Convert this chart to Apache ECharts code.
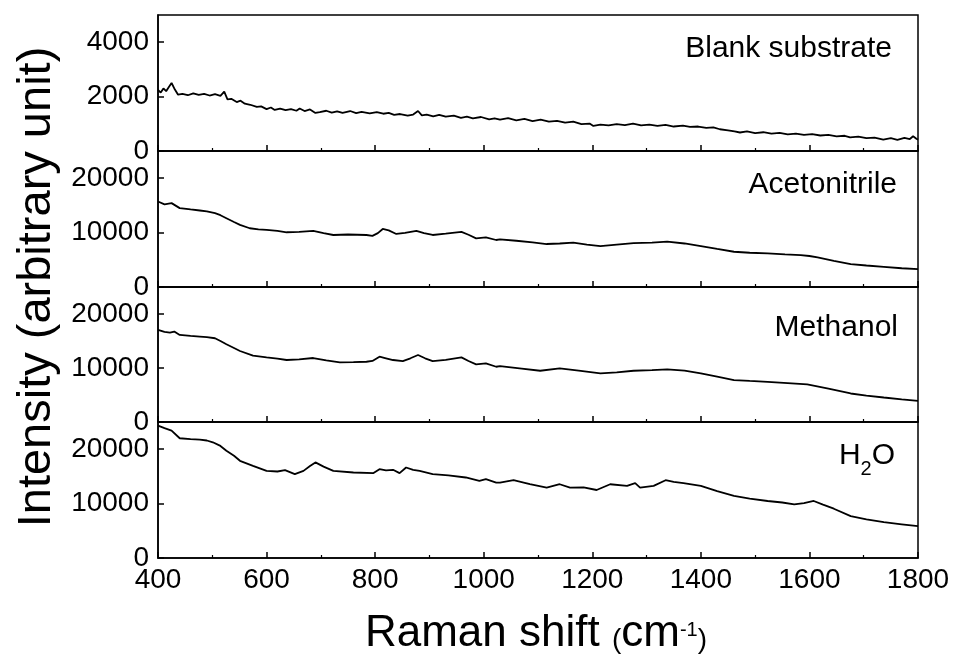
<!DOCTYPE html>
<html>
<head>
<meta charset="utf-8">
<script src="https://cdn.jsdelivr.net/npm/echarts@6/dist/echarts.min.js"></script>
<style>html,body{margin:0;padding:0;background:#fff}#c{width:957px;height:659px}</style>
</head>
<body>
<div id="c"></div>
<script>
// Raman shift (cm-1) values and intensities
const xTicks = [400, 600, 800, 1000, 1200, 1400, 1600, 1800];
const panelNames = ['Blank substrate', 'Acetonitrile', 'Methanol', 'H2O'];

const blankX = [400,405,410,415,420,425,430,437,445,455,465,475,485,495,505,515,522,528,535,545,552,560,570,582,590,600,608,615,625,635,645,655,661,670,680,690,698,710,720,730,740,754,765,775,790,803,815,825,835,846,860,870,879,886,895,907,918,930,945,958,969,980,995,1010,1020,1030,1045,1060,1075,1090,1105,1120,1135,1150,1165,1180,1195,1202,1215,1230,1245,1260,1275,1290,1305,1320,1335,1350,1367,1380,1395,1410,1423,1435,1450,1462,1472,1485,1500,1515,1530,1545,1560,1575,1590,1605,1620,1635,1650,1665,1675,1690,1705,1720,1736,1750,1762,1775,1785,1791,1797,1800];
const blankY = [2250,2150,2300,2200,2350,2500,2300,2070,2100,2050,2120,2060,2100,2040,2090,2030,2180,1900,1920,1800,1850,1740,1700,1620,1640,1540,1600,1510,1560,1500,1540,1480,1560,1470,1530,1400,1430,1480,1410,1460,1400,1470,1390,1440,1380,1430,1370,1400,1330,1360,1300,1340,1470,1310,1340,1270,1330,1260,1300,1220,1260,1200,1250,1160,1200,1150,1210,1130,1180,1100,1150,1080,1110,1040,1080,990,1010,920,970,940,990,950,1010,940,970,920,960,900,930,890,900,850,870,800,760,720,680,720,660,690,640,670,610,640,590,620,570,590,540,560,500,530,470,490,420,470,410,480,440,540,450,420];

const acetoX = [400,412,425,440,460,477,490,505,515,526,540,551,569,585,600,620,637,660,686,705,723,750,784,795,805,814,825,839,855,876,890,906,930,959,972,986,1004,1023,1030,1060,1090,1116,1140,1165,1190,1215,1245,1276,1310,1338,1370,1400,1430,1461,1490,1523,1555,1584,1600,1615,1645,1676,1705,1737,1770,1800];
const acetoY = [15725,15200,15420,14500,14250,14060,13900,13570,13200,12650,11950,11410,10800,10600,10490,10300,10060,10150,10300,9900,9560,9650,9560,9400,9900,10670,10400,9750,9950,10300,9900,9560,9800,10120,9600,8950,9120,8640,8770,8500,8200,7900,8000,8140,7800,7530,7800,8080,8150,8330,8000,7530,7000,6480,6300,6170,6000,5860,5700,5430,4800,4200,3950,3700,3450,3270];

const methX = [400,412,422,430,440,460,477,490,505,515,526,540,551,575,600,620,637,660,686,710,735,760,784,795,808,820,833,851,865,879,892,906,930,959,972,986,1004,1023,1030,1070,1104,1140,1175,1215,1245,1276,1310,1338,1370,1400,1430,1461,1490,1523,1560,1596,1635,1676,1705,1737,1770,1800];
const methY = [17060,16700,16560,16750,16130,15950,15810,15700,15510,15000,14400,13700,13150,12280,11970,11750,11480,11600,11850,11400,11050,11100,11160,11300,12090,11800,11480,11290,11800,12400,11800,11290,11500,11970,11300,10680,10860,10230,10360,9900,9490,9920,9500,9000,9200,9490,9600,9740,9500,9000,8400,7760,7600,7440,7200,6960,6200,5280,4900,4540,4200,3910];

const waterX = [400,412,425,440,460,477,490,501,515,526,540,551,575,600,620,634,652,668,680,690,705,723,760,797,808,820,833,845,857,870,882,906,935,967,992,1004,1023,1030,1055,1085,1116,1140,1159,1184,1208,1233,1264,1279,1288,1313,1335,1350,1368,1400,1430,1461,1490,1523,1550,1572,1590,1608,1625,1645,1676,1705,1737,1770,1800];
const waterY = [24350,23890,23420,22010,21850,21760,21600,21270,20600,19720,18800,17870,16950,16020,15900,16140,15410,16020,16900,17570,16800,16020,15720,15610,16330,16100,16210,15600,16640,16200,16020,15410,15200,14800,14170,14480,13870,13870,14300,13600,12950,13560,12950,13000,12500,13560,13260,13750,12950,13260,14300,14000,13750,13260,12300,11400,10900,10480,10200,9860,10100,10480,9800,9060,7700,7100,6590,6200,5850];

const seriesX = [blankX, acetoX, methX, waterX];
const seriesY = [blankY, acetoY, methY, waterY];
const yMax = [5000, 25000, 25000, 25000];
const yInterval = [2000, 10000, 10000, 10000];

const FONT = "'Liberation Sans', Arial, sans-serif";
const gridTops = [15, 151, 287, 422];
const gridHeights = [136, 136, 135, 136];

const grids = [], xAxes = [], yAxes = [], series = [];
for (let i = 0; i < 4; i++) {
  grids.push({left: 158, right: 39, top: gridTops[i], height: gridHeights[i], show: true,
    borderColor: '#000', borderWidth: 1.5, backgroundColor: 'transparent'});
  xAxes.push({type: 'value', gridIndex: i, min: 400, max: 1800, interval: 200,
    axisLine: {show: true, onZero: false, lineStyle: {color: '#000', width: 1.5}},
    axisTick: {show: true, inside: true, length: 6, lineStyle: {color: '#000', width: 1.5}},
    minorTick: {show: true, splitNumber: 2, length: 3, lineStyle: {color: '#000', width: 1.2}},
    splitLine: {show: false},
    axisLabel: {show: i === 3, color: '#000', fontSize: 28, fontFamily: FONT, margin: 8,
      formatter: v => String(v)}
  });
  yAxes.push({type: 'value', gridIndex: i, min: 0, max: yMax[i], interval: yInterval[i],
    axisLine: {show: true, lineStyle: {color: '#000', width: 1.5}},
    axisTick: {show: true, inside: true, length: 6, lineStyle: {color: '#000', width: 1.5}},
    splitLine: {show: false},
    axisLabel: {color: '#000', fontSize: 28, fontFamily: FONT, margin: 9, showMaxLabel: false,
      formatter: v => String(v)}
  });
  series.push({type: 'line', xAxisIndex: i, yAxisIndex: i, showSymbol: false, symbol: 'none',
    lineStyle: {color: '#000', width: 1.8}, animation: false,
    data: seriesX[i].map((x, k) => [x, seriesY[i][k]])});
}

const titleStyle = {color: '#000', fontSize: 30, fontWeight: 'normal', fontFamily: FONT};
const titles = [
  {text: panelNames[0], right: 60, top: 29, textStyle: titleStyle},
  {text: panelNames[1], right: 55, top: 165, textStyle: titleStyle},
  {text: panelNames[2], right: 54, top: 308, textStyle: titleStyle},
  {text: '{a|H}{b|2}{a|O}', right: 57, top: 436, textStyle: {fontWeight: 'normal',
    rich: {a: {color: '#000', fontSize: 30, fontWeight: 'normal', fontFamily: FONT, verticalAlign: 'top', lineHeight: 34},
           b: {color: '#000', fontSize: 20, fontWeight: 'normal', fontFamily: FONT, verticalAlign: 'top', lineHeight: 20, padding: [18, 0, 0, 0]}}}}
];

const chart = echarts.init(document.getElementById('c'), null, {renderer: 'canvas'});
chart.setOption({
  animation: false,
  backgroundColor: '#fff',
  title: titles,
  grid: grids,
  xAxis: xAxes,
  yAxis: yAxes,
  series: series,
  graphic: [
    {type: 'text', x: 37, y: 287, rotation: Math.PI / 2, style: {
      text: 'Intensity (arbitrary unit)', fill: '#000', fontSize: 47, fontFamily: FONT,
      textAlign: 'center', textVerticalAlign: 'middle'}},
    {type: 'text', x: 536, y: 634, style: {
      text: '{a|Raman shift }{p|(}{a|cm}{s|-1}{p|)}', fill: '#000', textAlign: 'center', textVerticalAlign: 'middle',
      rich: {a: {fontSize: 44, fontFamily: FONT, fill: '#000', verticalAlign: 'middle', lineHeight: 50},
             p: {fontSize: 28, fontFamily: FONT, fill: '#000', verticalAlign: 'bottom', lineHeight: 26, padding: [0, 0, 5, 0]},
             s: {fontSize: 20, fontFamily: FONT, fill: '#000', verticalAlign: 'top', lineHeight: 20, padding: [11, 0, 0, 0]}}
    }}
  ]
});
</script>
</body>
</html>
